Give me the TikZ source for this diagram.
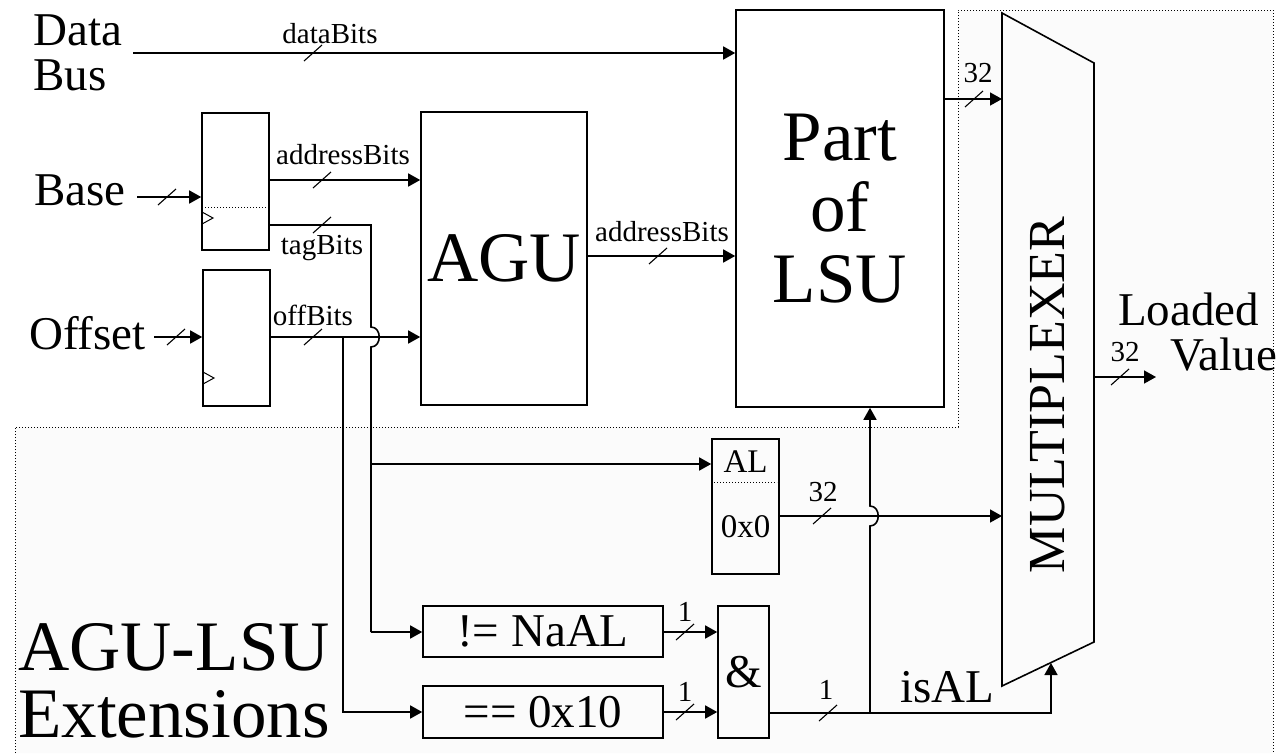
\documentclass[tikz,border=0pt]{standalone}
\usepackage{fontspec}
\setmainfont{Liberation Serif}
\usetikzlibrary{arrows.meta}
\newcommand{\fsz}[1]{\fontsize{#1}{#1}\selectfont}
% bus width mark on a wire
\newcommand{\busmark}[1]{\draw[line width=1.1pt,shift={(#1)}] (-9,8) -- (9,-8);}
\tikzset{
  blk/.style={draw,line width=1.6pt,inner sep=0pt},
  wire/.style={line width=1.6pt},
  sig/.style={wire,-{Triangle[length=12pt,width=13pt]}},
  smalltxt/.style={font=\fsz{29},inner sep=0pt},
  midtxt/.style={font=\fsz{47},inner sep=0pt},
  hugetxt/.style={font=\fsz{71},inner sep=0pt},
}
\begin{document}
\begin{tikzpicture}[x=1pt,y=-1pt]
  \useasboundingbox (0,0) rectangle (1278,753);
  % extension area
  \fill[black!1.5] (15,427) -- (958,427) -- (958,10) -- (1273,10) -- (1273,753) -- (15,753) -- cycle;
  \draw[dotted,line width=1pt] (15,753) -- (15,427) -- (958,427) -- (958,10) -- (1273,10) -- (1273,753);
  \node[hugetxt,anchor=base west] (exta) at (18,670) {AGU-LSU};
  \node[hugetxt,anchor=base west] (extb) at (18,737) {Extensions};

  % registers
  \node[blk,minimum width=67pt,minimum height=137pt] (basereg) at (235.5,181.5) {};
  \draw[dotted,line width=1pt] (205,207) -- (267,207);
  \draw[line width=1pt] (202,212) -- (213,218) -- (202,224);
  \node[blk,minimum width=67pt,minimum height=136pt] (offreg) at (236.5,338) {};
  \draw[line width=1pt] (203,372) -- (214,378) -- (203,384);

  % main blocks
  \node[blk,minimum width=166pt,minimum height=293pt,hugetxt] (agu) at (504,258.5) {AGU};
  \node[blk,minimum width=208pt,minimum height=397pt,hugetxt,align=center,font=\fontsize{71}{71}\selectfont] (lsu) at (840,208.5) {Part\\of\\LSU};
  \node[blk,minimum width=67pt,minimum height=135pt] (al) at (745.5,506.5) {};
  \draw[dotted,line width=1pt] (714,482) -- (777,482);
  \node[font=\fsz{33},inner sep=0pt] (altxt) at (745.5,462) {AL};
  \node[font=\fsz{33},inner sep=0pt] (zerotxt) at (745.5,527) {0x0};
  \node[blk,minimum width=240pt,minimum height=51pt,midtxt] (neq) at (543,631.5) {!= NaAL};
  \node[blk,minimum width=240pt,minimum height=52pt,midtxt] (eqz) at (543,712) {== 0x10};
  \node[blk,minimum width=51pt,minimum height=132pt,midtxt] (andg) at (743.5,672) {\&};

  % multiplexer
  \coordinate (muxtl) at (1002,13);
  \coordinate (muxtr) at (1094,63);
  \coordinate (muxbr) at (1094,642);
  \coordinate (muxbl) at (1002,686);
  \draw[wire] (muxtl) -- (muxtr) -- (muxbr) -- (muxbl) -- cycle;
  \node[font=\fsz{52},inner sep=0pt,rotate=90] (muxtxt) at (1048,395) {MULTIPLEXER};

  % inputs
  \node[midtxt,anchor=base west] (datatxt) at (33,45) {Data};
  \node[midtxt,anchor=base west] (bustxt) at (33,90) {Bus};
  \node[midtxt,anchor=base west] (basetxt) at (34,205) {Base};
  \node[midtxt,anchor=base west] (offtxt) at (29,349) {Offset};
  \coordinate (busin) at (133,53);
  \coordinate (basein) at (137,197);
  \coordinate (offin) at (154,337);

  \draw[sig] (busin) -- (busin -| lsu.west);
  \busmark{313,53}
  \node[smalltxt] (dbits) at (330,34) {dataBits};
  \draw[sig] (basein) -- (basein -| basereg.west);
  \busmark{167,197}
  \draw[sig] (offin) -- (offin -| offreg.west);
  \busmark{176,337}

  % register outputs
  \coordinate (abits) at (269,180);
  \draw[sig] (abits) -- (abits -| agu.west);
  \busmark{322,180}
  \node[smalltxt] (abitstxt) at (343,155) {addressBits};
  \coordinate (tbits) at (269,225);
  \coordinate (tcol) at (371,225);
  \draw[wire] (tbits) -- (tcol) -- (371,327) .. controls (382,327) and (382,347) .. (371,347)
    -- (371,632) coordinate (tbot);
  \draw[sig] (tbot) -- (tbot -| neq.west);
  \busmark{322,225}
  \node[smalltxt] (tbitstxt) at (322,248) {tagBits};
  \coordinate (tal) at (371,464);
  \draw[sig] (tal) -- (tal -| al.west);
  \coordinate (obits) at (270,337);
  \draw[sig] (obits) -- (obits -| agu.west);
  \busmark{313,337}
  \node[smalltxt] (obitstxt) at (313,315) {offBits};
  \coordinate (ocol) at (343,337);
  \draw[sig] (ocol) |- (eqz.west);

  % AGU to LSU
  \coordinate (aguout) at (587,256);
  \draw[sig] (aguout) -- (aguout -| lsu.west);
  \busmark{658,256}
  \node[smalltxt] (aoutxt) at (662,232) {addressBits};

  % to multiplexer
  \coordinate (lsuout) at (944,99);
  \draw[sig] (lsuout) -- (lsuout -| muxtl);
  \busmark{974,99}
  \node[smalltxt] (lsu32) at (978,73) {32};
  \coordinate (alout) at (779,516);
  \draw[sig] (alout) -- (alout -| muxtl);
  \busmark{822,516}
  \node[smalltxt] (al32) at (823,492) {32};

  % comparators to and
  \coordinate (neout) at (663,632);
  \draw[sig] (neout) -- (neout -| andg.west);
  \busmark{685,632}
  \node[smalltxt] (ne1) at (685,612) {1};
  \coordinate (eqout) at (663,712);
  \draw[sig] (eqout) -- (eqout -| andg.west);
  \busmark{685,712}
  \node[smalltxt] (eq1) at (685,692) {1};

  % isAL select
  \coordinate (andout) at (769,713);
  \coordinate (selpt) at (1051,663);
  \draw[sig] (andout) -| (selpt);
  \busmark{828,713}
  \node[smalltxt] (and1) at (826,690) {1};
  \coordinate (isalsplit) at (870,713);
  \draw[sig] (isalsplit) -- (870,526) .. controls (881,526) and (881,506) .. (870,506) -- (isalsplit |- lsu.south);
  \node[midtxt,anchor=base west] (isaltxt) at (900,702) {isAL};

  % output
  \coordinate (muxout) at (1095,377);
  \coordinate (loadend) at (1156,377);
  \draw[sig] (muxout) -- (loadend);
  \busmark{1120,377}
  \node[smalltxt] (out32) at (1125,352) {32};
  \node[midtxt,anchor=base west] (loadtxt) at (1118,325) {Loaded};
  \node[midtxt,anchor=base west] (valtxt) at (1170,370) {Value};
\end{tikzpicture}
\end{document}
